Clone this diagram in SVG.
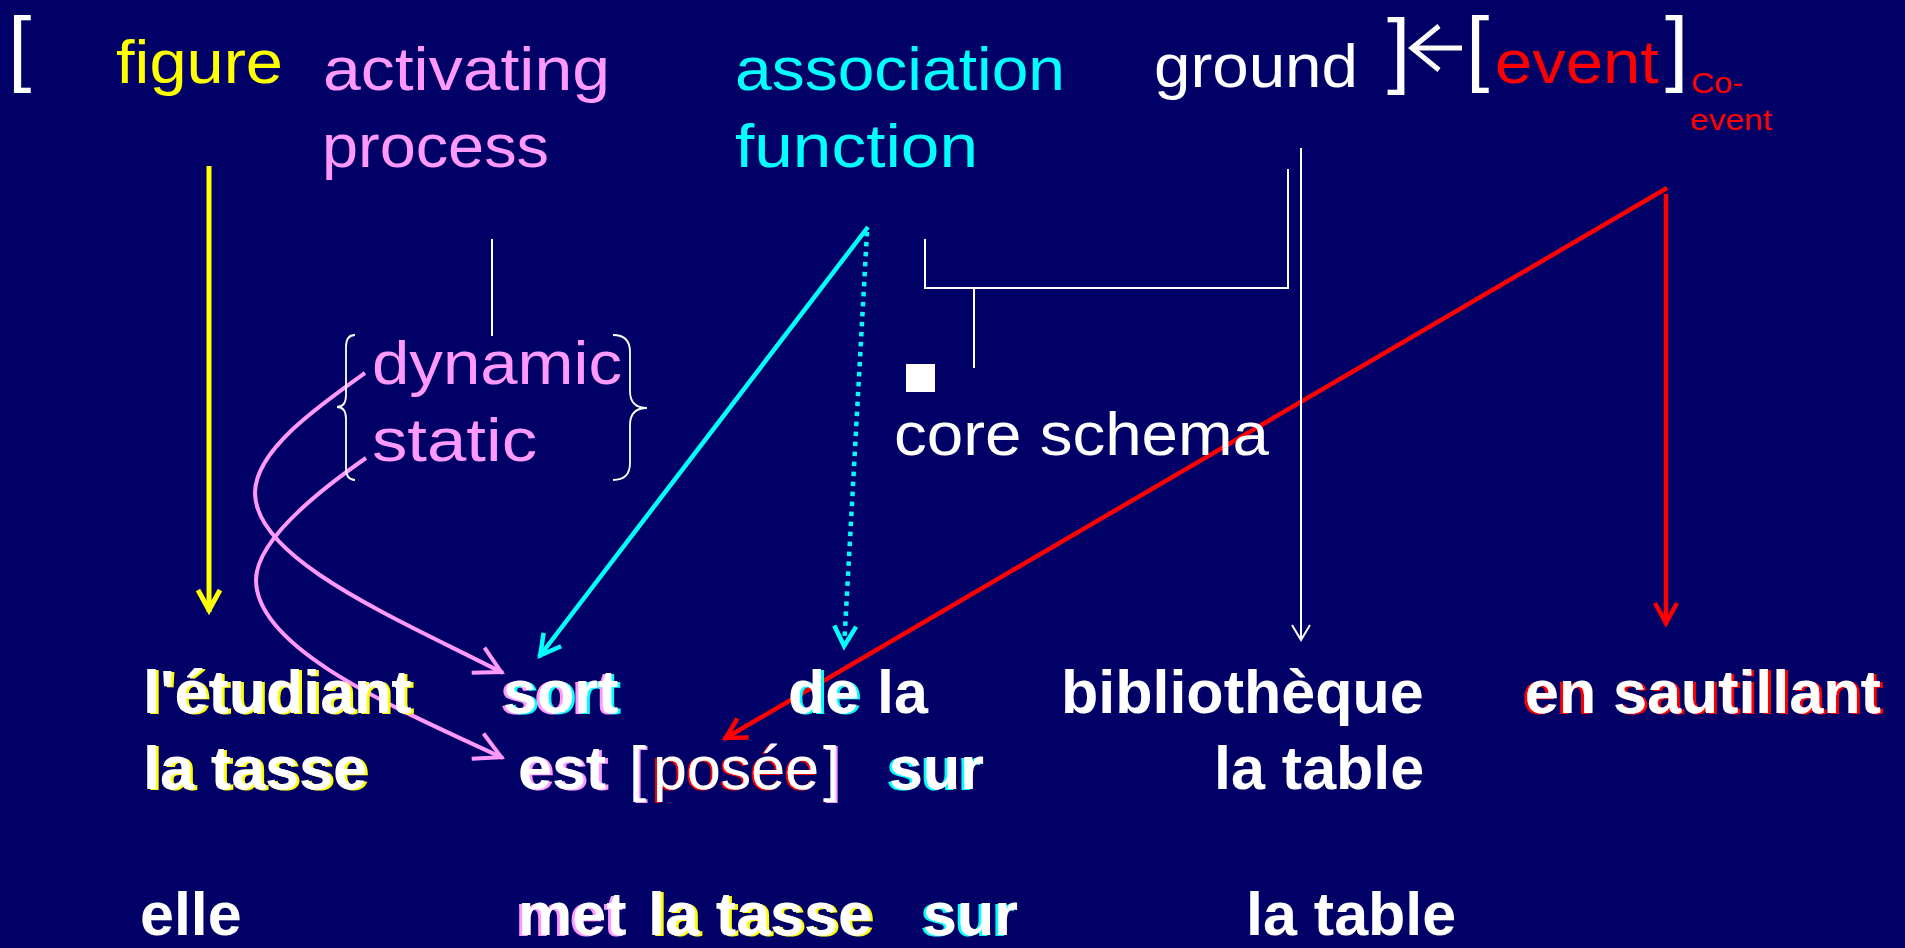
<svg xmlns="http://www.w3.org/2000/svg" width="1905" height="948" viewBox="0 0 1905 948">
<defs>
<style>
.lab{font-family:"Liberation Sans",Arial,sans-serif;font-size:62px}
.sm{font-family:"Liberation Sans",Arial,sans-serif;font-size:29px;fill:#ff0000}
.b{font-family:"Liberation Sans",Arial,sans-serif;font-size:61px;font-weight:bold;fill:#ffffff}
.n{font-family:"Liberation Sans",Arial,sans-serif;font-size:61px;fill:#ffffff}
.brk{font-family:"Liberation Sans",Arial,sans-serif;font-size:84px;fill:#ffffff}
.w{fill:#ffffff}.y{fill:#ffff00}.p{fill:#ff99ff}.c{fill:#00ffff}.r{fill:#ff0000}
.ln{fill:none;stroke:#ffffff;stroke-width:2}
.brace{fill:none;stroke:#ffffff;stroke-width:1.8}
</style>
<filter id="shY" x="-5%" y="-10%" width="110%" height="120%"><feFlood flood-color="#ffff00"/><feComposite in2="SourceAlpha" operator="in"/><feOffset dx="3" dy="1" result="s"/><feMerge><feMergeNode in="s"/><feMergeNode in="SourceGraphic"/></feMerge></filter>
<filter id="shPr" x="-5%" y="-10%" width="110%" height="120%"><feFlood flood-color="#ff99ff"/><feComposite in2="SourceAlpha" operator="in"/><feOffset dx="3" dy="1" result="s"/><feMerge><feMergeNode in="s"/><feMergeNode in="SourceGraphic"/></feMerge></filter>
<filter id="shPr2" x="-20%" y="-10%" width="140%" height="120%"><feFlood flood-color="#ff99ff"/><feComposite in2="SourceAlpha" operator="in"/><feOffset dx="2" dy="1" result="s"/><feMerge><feMergeNode in="s"/><feMergeNode in="SourceGraphic"/></feMerge></filter>
<filter id="shPl" x="-5%" y="-10%" width="110%" height="120%"><feFlood flood-color="#ff99ff"/><feComposite in2="SourceAlpha" operator="in"/><feOffset dx="-3" dy="1" result="s"/><feMerge><feMergeNode in="s"/><feMergeNode in="SourceGraphic"/></feMerge></filter>
<filter id="shCr" x="-5%" y="-10%" width="110%" height="120%"><feFlood flood-color="#00ffff"/><feComposite in2="SourceAlpha" operator="in"/><feOffset dx="3" dy="1" result="s"/><feMerge><feMergeNode in="s"/><feMergeNode in="SourceGraphic"/></feMerge></filter>
<filter id="shCl" x="-5%" y="-10%" width="110%" height="120%"><feFlood flood-color="#00ffff"/><feComposite in2="SourceAlpha" operator="in"/><feOffset dx="-3" dy="1" result="s"/><feMerge><feMergeNode in="s"/><feMergeNode in="SourceGraphic"/></feMerge></filter>
<filter id="shRl" x="-5%" y="-10%" width="110%" height="120%"><feFlood flood-color="#ff0000"/><feComposite in2="SourceAlpha" operator="in"/><feOffset dx="-3" dy="1" result="s"/><feMerge><feMergeNode in="s"/><feMergeNode in="SourceGraphic"/></feMerge></filter>
<filter id="shRl2" x="-5%" y="-10%" width="110%" height="120%"><feFlood flood-color="#ff0000"/><feComposite in2="SourceAlpha" operator="in"/><feOffset dx="-2" dy="1" result="s"/><feMerge><feMergeNode in="s"/><feMergeNode in="SourceGraphic"/></feMerge></filter>
<filter id="shRr" x="-5%" y="-10%" width="110%" height="120%"><feFlood flood-color="#ff0000"/><feComposite in2="SourceAlpha" operator="in"/><feOffset dx="3" dy="1" result="s"/><feMerge><feMergeNode in="s"/><feMergeNode in="SourceGraphic"/></feMerge></filter>
<filter id="shPC" x="-5%" y="-10%" width="110%" height="120%"><feFlood flood-color="#ff99ff"/><feComposite in2="SourceAlpha" operator="in"/><feOffset dx="-3" dy="1" result="a"/><feFlood flood-color="#00ffff"/><feComposite in2="SourceAlpha" operator="in"/><feOffset dx="3" dy="1" result="b"/><feMerge><feMergeNode in="a"/><feMergeNode in="b"/><feMergeNode in="SourceGraphic"/></feMerge></filter>
<marker id="aY" markerUnits="userSpaceOnUse" viewBox="-30 -20 40 40" refX="0" refY="0" markerWidth="40" markerHeight="40" orient="auto"><path d="M-22,-11 L-2,0 L-22,11" fill="none" stroke="#ffff00" stroke-width="5"/></marker>
<marker id="aC" markerUnits="userSpaceOnUse" viewBox="-30 -20 40 40" refX="0" refY="0" markerWidth="40" markerHeight="40" orient="auto"><path d="M-22,-11 L-2,0 L-22,11" fill="none" stroke="#00ffff" stroke-width="4.5"/></marker>
<marker id="aR" markerUnits="userSpaceOnUse" viewBox="-30 -20 40 40" refX="0" refY="0" markerWidth="40" markerHeight="40" orient="auto"><path d="M-22,-11 L-2,0 L-22,11" fill="none" stroke="#ff0000" stroke-width="4.5"/></marker>
<marker id="aP" markerUnits="userSpaceOnUse" viewBox="-35 -20 40 40" refX="0" refY="0" markerWidth="40" markerHeight="40" orient="auto"><path d="M-28,-14 L-2,0 L-28,14" fill="none" stroke="#ff99ff" stroke-width="4"/></marker>
<marker id="aW" markerUnits="userSpaceOnUse" viewBox="-30 -20 40 40" refX="0" refY="0" markerWidth="40" markerHeight="40" orient="auto"><path d="M-15,-9 L0,0 L-15,9" fill="none" stroke="#ffffff" stroke-width="2"/></marker>
</defs>
<rect x="0" y="0" width="1905" height="948" fill="#000066"/>

<g id="connectors">
<line x1="209" y1="166" x2="209" y2="612" stroke="#ffff00" stroke-width="5" marker-end="url(#aY)"/>
<line x1="868" y1="227" x2="539" y2="657" stroke="#00ffff" stroke-width="4.5" marker-end="url(#aC)"/>
<line x1="867" y1="232" x2="844" y2="648" stroke="#00ffff" stroke-width="4.5" stroke-dasharray="4.5 5.5" marker-end="url(#aC)"/>
<line x1="1667" y1="188" x2="724" y2="739" stroke="#ff0000" stroke-width="4.5" marker-end="url(#aR)"/>
<line x1="1666" y1="194" x2="1666" y2="625" stroke="#ff0000" stroke-width="4.5" marker-end="url(#aR)"/>
<line x1="1301" y1="148" x2="1301" y2="640" stroke="#ffffff" stroke-width="2" marker-end="url(#aW)"/>
<polyline class="ln" points="925,239 925,288 1288,288 1288,169"/>
<line class="ln" x1="974" y1="288" x2="974" y2="368"/>
<line class="ln" x1="492" y1="239" x2="492" y2="336"/>
<path d="M365,373 C320,405 255,450 255,493 C255,560 400,620 503,673" fill="none" stroke="#ff99ff" stroke-width="4" marker-end="url(#aP)"/>
<path d="M366,458 C320,490 256,540 256,580 C256,650 400,710 503,758" fill="none" stroke="#ff99ff" stroke-width="4" marker-end="url(#aP)"/>
</g>

<g id="open-bracket">
<text class="brk" x="8" y="76">[</text>
</g>
<g id="figure"><text class="lab y" x="116" y="83" textLength="167" lengthAdjust="spacingAndGlyphs">figure</text></g>
<g id="activating-process">
<text class="lab p" x="323" y="90" textLength="287" lengthAdjust="spacingAndGlyphs">activating</text>
<text class="lab p" x="322" y="167" textLength="227" lengthAdjust="spacingAndGlyphs">process</text>
</g>
<g id="association-function">
<text class="lab c" x="735" y="90" textLength="330" lengthAdjust="spacingAndGlyphs">association</text>
<text class="lab c" x="735" y="167" textLength="243" lengthAdjust="spacingAndGlyphs">function</text>
</g>
<g id="ground"><text class="lab w" x="1154" y="87" textLength="204" lengthAdjust="spacingAndGlyphs">ground</text></g>
<g id="event">
<text class="brk" x="1387" y="78">]</text>
<path d="M1462,48 H1414 M1439,26 L1412,48 L1439,70" fill="none" stroke="#ffffff" stroke-width="5"/>
<text class="brk" x="1466" y="76">[</text>
<text class="lab r" x="1495" y="83" textLength="164" lengthAdjust="spacingAndGlyphs">event</text>
<text class="brk" x="1665" y="76">]</text>
</g>
<g id="co-event">
<text class="sm" x="1691" y="93" textLength="52" lengthAdjust="spacingAndGlyphs">Co-</text>
<text class="sm" x="1690" y="130" textLength="82" lengthAdjust="spacingAndGlyphs">event</text>
</g>
<g id="dynamic-static">
<path class="brace" d="M355,335 Q346,335 346,347 L346,395 Q346,407 337,407 Q346,407 346,419 L346,468 Q346,480 355,480"/>
<text class="lab p" x="372" y="384" textLength="250" lengthAdjust="spacingAndGlyphs">dynamic</text>
<text class="lab p" x="372" y="461" textLength="165" lengthAdjust="spacingAndGlyphs">static</text>
<path class="brace" d="M613,335 Q630,335 630,352 L630,391 Q630,408 647,408 Q630,408 630,425 L630,463 Q630,480 613,480"/>
</g>
<g id="core-schema">
<rect x="906" y="364" width="29" height="28" fill="#ffffff"/>
<text class="lab w" x="894" y="455" textLength="375" lengthAdjust="spacingAndGlyphs">core schema</text>
</g>

<g id="row1">
<text class="b" x="143" y="713" filter="url(#shY)">l'étudiant</text>
<text class="b" x="503" y="713" filter="url(#shPC)">sort</text>
<text class="b" x="788" y="713" filter="url(#shCr)">de</text>
<text class="b" x="877" y="713">la</text>
<text class="b" x="1061" y="713">bibliothèque</text>
<text class="b" x="1525" y="713" filter="url(#shRl)">en</text>
<text class="b" x="1613" y="713" filter="url(#shRr)">sautillant</text>
</g>
<g id="row2">
<text class="b" x="143" y="789" filter="url(#shY)">la tasse</text>
<text class="b" x="518" y="789" filter="url(#shPr)">est</text>
<text class="n" x="629" y="789" filter="url(#shPr2)">[</text>
<text class="n" x="653" y="789" filter="url(#shRl2)">posée</text>
<text class="n" x="823" y="789" filter="url(#shPr2)">]</text>
<text class="b" x="889" y="789" filter="url(#shCl)">sur</text>
<text class="b" x="1214" y="789">la table</text>
</g>
<g id="row3">
<text class="b" x="140" y="935">elle</text>
<text class="b" x="518" y="935" filter="url(#shPl)">met</text>
<text class="b" x="648" y="935" filter="url(#shY)">la tasse</text>
<text class="b" x="923" y="935" filter="url(#shCl)">sur</text>
<text class="b" x="1246" y="935">la table</text>
</g>
</svg>
